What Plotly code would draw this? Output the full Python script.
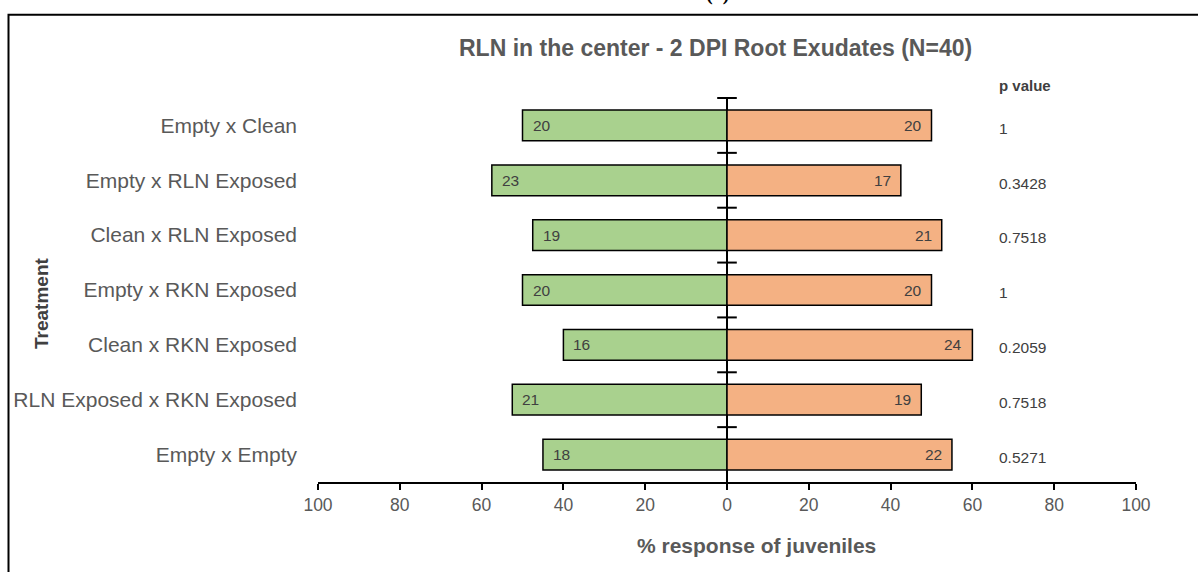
import plotly.graph_objects as go

# Treatments, top to bottom
treatments = [
    "Empty x Clean",
    "Empty x RLN Exposed",
    "Clean x RLN Exposed",
    "Empty x RKN Exposed",
    "Clean x RKN Exposed",
    "RLN Exposed x RKN Exposed",
    "Empty x Empty",
]
# Juvenile counts choosing each side (N=40 per treatment)
left_counts = [20, 23, 19, 20, 16, 21, 18]
right_counts = [20, 17, 21, 20, 24, 19, 22]
p_values = ["1", "0.3428", "0.7518", "1", "0.2059", "0.7518", "0.5271"]
N = 40

x_ticks = [-100, -80, -60, -40, -20, 0, 20, 40, 60, 80, 100]
x_tick_text = [str(abs(v)) for v in x_ticks]

left_pct = [-c / N * 100 for c in left_counts]
right_pct = [c / N * 100 for c in right_counts]
ypos = list(range(len(treatments)))

FONT = "Liberation Sans, Arial, sans-serif"
GREY = "#595959"
DARK = "#404040"

W, H = 1198, 572
L, R, T, B = 318, 62, 97.5, 89.5
pw, ph = W - L - R, H - T - B


def px_x(p):
    return (p - L) / pw


def px_y(p):
    return (H - B - p) / ph


fig = go.Figure()
fig.add_trace(go.Bar(
    y=ypos, x=left_pct, orientation="h", width=0.56,
    marker=dict(color="#A9D18E", line=dict(color="black", width=1.5)),
    hoverinfo="skip",
))
fig.add_trace(go.Bar(
    y=ypos, x=right_pct, orientation="h", width=0.56,
    marker=dict(color="#F4B183", line=dict(color="black", width=1.5)),
    hoverinfo="skip",
))

# Cross ticks on the centre line at the category boundaries
bounds = [i - 0.5 for i in range(len(treatments))]
fig.add_trace(go.Scatter(
    x=[0] * len(bounds), y=bounds, mode="markers",
    marker=dict(symbol="line-ew", size=14, line=dict(color="black", width=2)),
    hoverinfo="skip", cliponaxis=False,
))

annotations = []
for y, lp, rp, lc, rc, pv in zip(ypos, left_pct, right_pct, left_counts, right_counts, p_values):
    annotations.append(dict(x=lp, y=y, xref="x", yref="y", text=str(lc),
                            showarrow=False, xanchor="left", xshift=8,
                            font=dict(family=FONT, size=15.5, color=DARK)))
    annotations.append(dict(x=rp, y=y, xref="x", yref="y", text=str(rc),
                            showarrow=False, xanchor="right", xshift=-8,
                            font=dict(family=FONT, size=15.5, color=DARK)))
    annotations.append(dict(x=66.1, y=y + 0.05, xref="x", yref="y", text=pv,
                            showarrow=False, xanchor="left",
                            font=dict(family=FONT, size=15.5, color=DARK)))

annotations += [
    dict(x=66.1, y=px_y(85), xref="x", yref="paper", text="<b>p value</b>",
         showarrow=False, xanchor="left", yanchor="middle",
         font=dict(family=FONT, size=15, color=DARK)),
    dict(x=px_x(715), y=px_y(47), xref="paper", yref="paper",
         text="<b>RLN in the center - 2 DPI Root Exudates (N=40)</b>",
         showarrow=False, xanchor="center", yanchor="middle",
         font=dict(family=FONT, size=23, color=GREY)),
    dict(x=px_x(42), y=px_y(304), xref="paper", yref="paper",
         text="<b>Treatment</b>", textangle=-90, showarrow=False,
         xanchor="center", yanchor="middle",
         font=dict(family=FONT, size=19, color=DARK)),
    dict(x=px_x(756), y=px_y(546), xref="paper", yref="paper",
         text="<b>% response of juveniles</b>", showarrow=False,
         xanchor="center", yanchor="middle",
         font=dict(family=FONT, size=21, color=GREY)),
    dict(x=px_x(717), y=px_y(6), xref="paper", yref="paper",
         text="<b>(a)</b>", showarrow=False, xanchor="center", yanchor="bottom",
         font=dict(family="Liberation Serif, Times New Roman, serif", size=20, color="black")),
]

fig.update_layout(
    width=W, height=H,
    margin=dict(l=L, r=R, t=T, b=B),
    paper_bgcolor="white", plot_bgcolor="white",
    barmode="overlay", showlegend=False,
    annotations=annotations,
    shapes=[dict(type="rect", xref="paper", yref="paper",
                 x0=px_x(8.5), x1=px_x(1210), y0=px_y(14), y1=px_y(590),
                 line=dict(color="black", width=2), layer="above")],
    xaxis=dict(
        range=[-100, 100], tickvals=x_ticks, ticktext=x_tick_text,
        showgrid=False, zeroline=True, zerolinecolor="black", zerolinewidth=2,
        showline=True, linecolor="black", linewidth=2,
        ticks="outside", ticklen=6, tickwidth=2, tickcolor="black",
        tickfont=dict(family=FONT, size=17.5, color=GREY),
    ),
    yaxis=dict(
        range=[len(treatments) - 0.5, -0.5],
        tickvals=ypos, ticktext=treatments,
        showgrid=False, zeroline=False, showline=False, ticks="",
        ticklabelstandoff=20,
        tickfont=dict(family=FONT, size=21, color=GREY),
    ),
)

fig.write_html("out.html")
